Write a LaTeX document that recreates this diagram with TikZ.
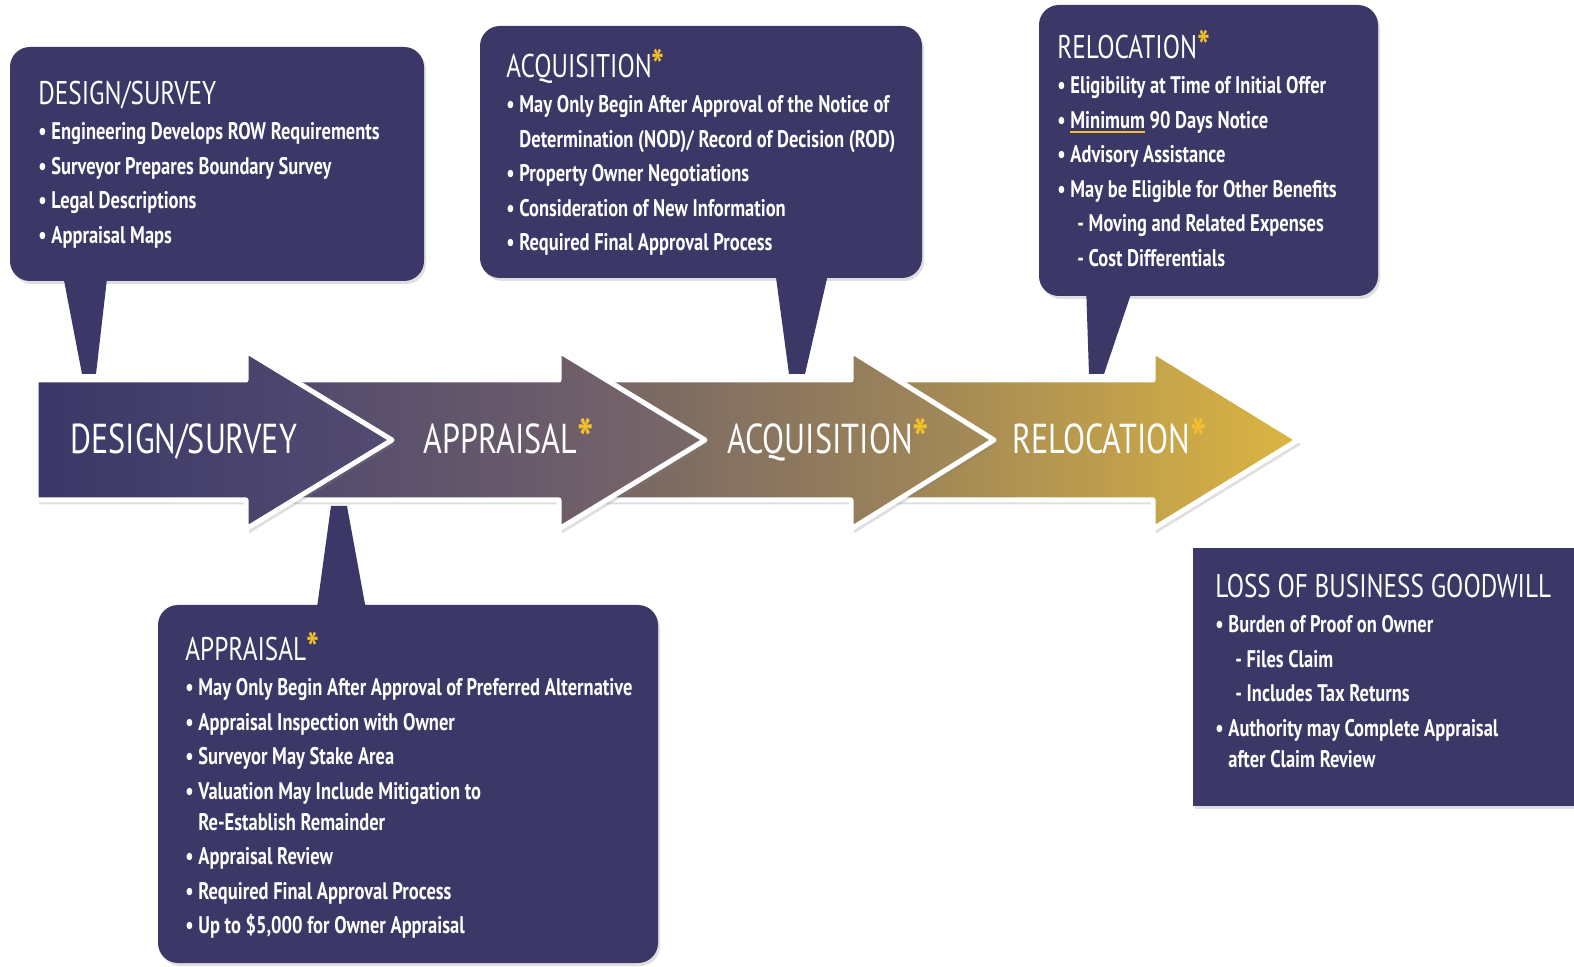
\documentclass[tikz,border=0pt]{standalone}
\usepackage{fontspec}
\setmainfont{PT Sans}[FakeStretch=0.77]
\usetikzlibrary{positioning, fit, shadows}
\definecolor{boxnavy}{RGB}{59,55,102}
\definecolor{stargold}{RGB}{242,192,42}
\definecolor{dsL}{RGB}{58,56,104}
\definecolor{dsR}{RGB}{84,75,112}
\definecolor{apL}{RGB}{78,70,110}
\definecolor{apR}{RGB}{122,104,104}
\definecolor{aqL}{RGB}{112,97,103}
\definecolor{aqR}{RGB}{166,140,86}
\definecolor{rlL}{RGB}{150,127,90}
\definecolor{rlR}{RGB}{220,181,66}
\newcommand{\gstar}{\textcolor{stargold}{\bfseries\raisebox{-0.12em}{\scalebox{1.35}{*}}}}
\newcommand{\goldunder}[1]{\setbox0\hbox{#1}\rlap{\textcolor{stargold}{\rule[-2.4pt]{\wd0}{1pt}}}\box0\relax}
\newcommand{\hang}{\phantom{\textbullet\ }}
\tikzset{
  callout/.style={fill=boxnavy, draw=none, inner sep=0pt, rounded corners=10pt,
    drop shadow={opacity=0.25, shadow xshift=1pt, shadow yshift=-1.5pt}},
  chevron/.style={draw=white, line width=2.5pt, line join=round,
    drop shadow={opacity=0.25, shadow xshift=1.5pt, shadow yshift=-2.2pt}},
  boxtitle/.style={text=white, inner sep=0pt, anchor=base west, font=\fontsize{16.4}{20}\selectfont},
  boxitems/.style={text=white, inner sep=0pt, anchor=north west, align=left,
    font=\fontsize{12}{17.25}\selectfont\bfseries},
  steplabel/.style={text=white, inner sep=0pt, anchor=base west, font=\fontsize{20.9}{24}\selectfont}
}
\begin{document}
\begin{tikzpicture}[x=0.5pt, y=-0.5pt]
\useasboundingbox (0,0) rectangle (1574,967);
\fill[white] (0,0) rectangle (1574,967);

% Callout boxes
\node[callout, fit={(10,47) (424,281)}] (dsBox) {};
\node[callout, fit={(480,26) (922,278)}] (aqBox) {};
\node[callout, fit={(1039,5) (1378,296)}] (rlBox) {};
\node[callout, fit={(158,605) (658,963)}] (apBox) {};
\node[callout, rounded corners=0pt, fit={(1193,548) (1590,806)}] (lbBox) {};

% Tails down to the arrows
\fill[boxnavy] (62,270) -- (108,270) -- (96,374) -- (82,374) -- cycle;
\fill[boxnavy] (775,270) -- (829,270) -- (805,374) -- (789,374) -- cycle;
\fill[boxnavy] (1086,285) -- (1134,285) -- (1104,374) -- (1089,374) -- cycle;
\fill[boxnavy] (316,615) -- (367,615) -- (347,506) -- (331,506) -- cycle;

% Box texts
\node[boxtitle] (dsTitle) at (38,105) {DESIGN/SURVEY};
\node[boxitems] (dsItems) at (38,122) {\textbullet\ Engineering Develops ROW Requirements\\
  \textbullet\ Surveyor Prepares Boundary Survey\\
  \textbullet\ Legal Descriptions\\
  \textbullet\ Appraisal Maps};

\node[boxtitle] (aqTitle) at (506,78) {ACQUISITION\gstar};
\node[boxitems] (aqItems) at (506,95) {\textbullet\ May Only Begin After Approval of the Notice of\\
  \hang Determination (NOD)/ Record of Decision (ROD)\\
  \textbullet\ Property Owner Negotiations\\
  \textbullet\ Consideration of New Information\\
  \textbullet\ Required Final Approval Process};

\node[boxtitle] (rlTitle) at (1057,59) {RELOCATION\gstar};
\node[boxitems] (rlItems) at (1057,76) {\textbullet\ Eligibility at Time of Initial Offer\\
  \textbullet\ \goldunder{Minimum} 90 Days Notice\\
  \textbullet\ Advisory Assistance\\
  \textbullet\ May be Eligible for Other Benefits\\
  \hspace*{10pt}- Moving and Related Expenses\\
  \hspace*{10pt}- Cost Differentials};

\node[boxtitle] (apTitle) at (185,661) {APPRAISAL\gstar};
\node[boxitems] (apItems) at (185,678) {\textbullet\ May Only Begin After Approval of Preferred Alternative\\
  \textbullet\ Appraisal Inspection with Owner\\
  \textbullet\ Surveyor May Stake Area\\
  \textbullet\ Valuation May Include Mitigation to\\[-1.6pt]
  \hang Re-Establish Remainder\\
  \textbullet\ Appraisal Review\\
  \textbullet\ Required Final Approval Process\\
  \textbullet\ Up to \$5,000 for Owner Appraisal};

\node[boxtitle] (lbTitle) at (1215,598) {LOSS OF BUSINESS GOODWILL};
\node[boxitems] (lbItems) at (1215,615) {\textbullet\ Burden of Proof on Owner\\
  \hspace*{10pt}- Files Claim\\
  \hspace*{10pt}- Includes Tax Returns\\
  \textbullet\ Authority may Complete Appraisal\\[-1.6pt]
  \hang after Claim Review};

% Process arrows, right to left so each head lies on the next one
\path[chevron, left color=rlL, right color=rlR] (856,380) -- (1153,380) -- (1153,351) -- (1298,440) -- (1153,529) -- (1153,500) -- (856,500) -- cycle;
\path[chevron, left color=aqL, right color=aqR] (564,380) -- (851,380) -- (851,351) -- (994,440) -- (851,529) -- (851,500) -- (564,500) -- cycle;
\path[chevron, left color=apL, right color=apR] (251,380) -- (559,380) -- (559,351) -- (705,440) -- (559,529) -- (559,500) -- (251,500) -- cycle;
\path[chevron, left color=dsL, right color=dsR] (36,380) -- (246,380) -- (246,351) -- (392,440) -- (246,529) -- (246,500) -- (36,500) -- cycle;

\node[steplabel] (dsStep) at (70,454) {DESIGN/SURVEY};
\node[steplabel] (apStep) at (423,454) {APPRAISAL\gstar};
\node[steplabel] (aqStep) at (727,454) {ACQUISITION\gstar};
\node[steplabel] (rlStep) at (1012,454) {RELOCATION\gstar};

\end{tikzpicture}
\end{document}
